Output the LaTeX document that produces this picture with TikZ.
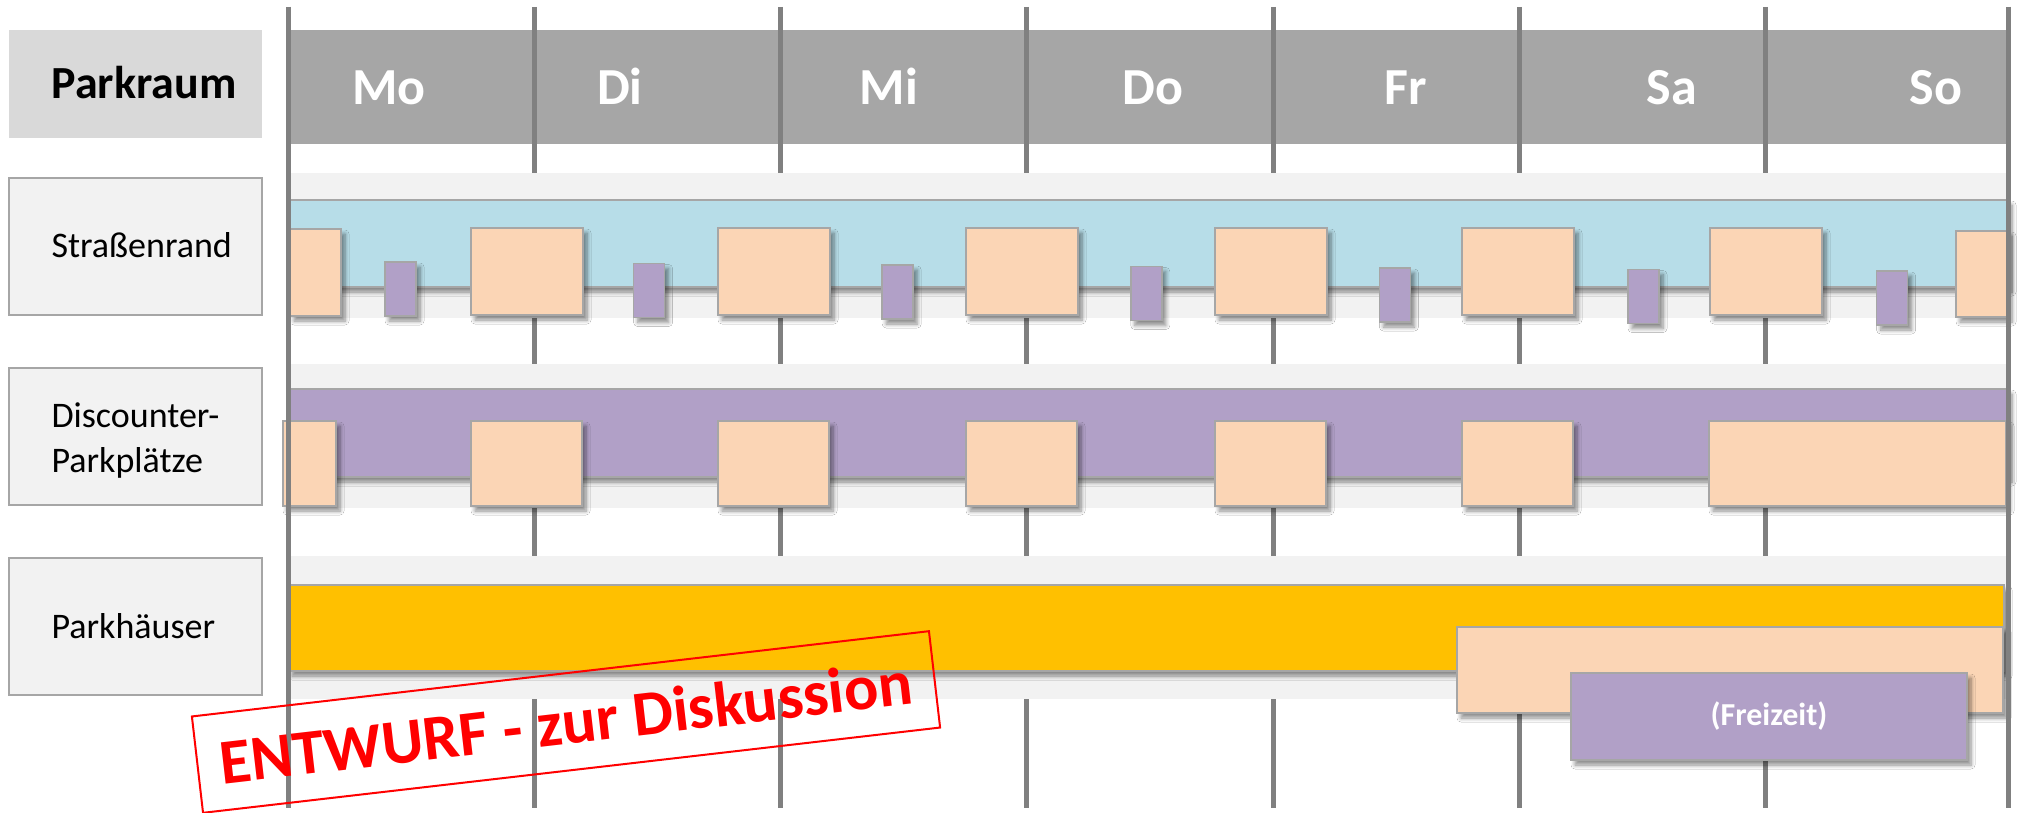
\documentclass[tikz,border=0pt]{standalone}
\usepackage{fontspec}
\setmainfont{Carlito}
\usetikzlibrary{shadows,shadows.blur}
\definecolor{hdrgray}{HTML}{A6A6A6}
\definecolor{titlegray}{HTML}{D9D9D9}
\definecolor{bandgray}{HTML}{F2F2F2}
\definecolor{edgegray}{HTML}{A6A6A6}
\definecolor{linegray}{HTML}{808080}
\definecolor{skyblue}{HTML}{B7DDE8}
\definecolor{lilac}{HTML}{B1A0C7}
\definecolor{peach}{HTML}{FBD5B5}
\definecolor{amber}{HTML}{FFC000}
\definecolor{stampred}{HTML}{FF0000}
\begin{document}
\begin{tikzpicture}[x=1pt,y=-1pt,
  gridline/.style={draw=linegray,line width=5pt},
  band/.style={fill=bandgray},
  labelbox/.style={fill=bandgray,draw=edgegray,line width=2pt},
  shade/.style={blur shadow={shadow xshift=4pt,shadow yshift=-5pt,shadow blur radius=4pt,shadow blur steps=6,shadow opacity=45}},
  bar/.style={draw=edgegray,line width=1.5pt,shade},
  peachbox/.style={fill=peach,draw=edgegray,line width=1.5pt,shade},
  lilacbox/.style={fill=lilac,draw=edgegray,line width=1.5pt,shade},
  daylabel/.style={anchor=base,text=white,font=\fontsize{52}{60}\selectfont\bfseries},
  rowlabel/.style={anchor=base west,text=black,font=\fontsize{36}{43}\selectfont},
]
\useasboundingbox (0,0) rectangle (2024,813);
\fill[white] (0,0) rectangle (2024,813);

% title cell and header
\fill[titlegray] (9,30) rectangle (262,138);
\fill[hdrgray] (290,30) rectangle (2006,144);

% day grid lines
\foreach \i/\x in {0/288,1/534,2/780,3/1026,4/1273,5/1519,6/1765,7/2008}{
  \coordinate (gt\i) at (\x,7);
  \coordinate (gb\i) at (\x,808);
  \draw[gridline] (gt\i) -- (gb\i);
}

% row bands
\fill[band] (288,173) rectangle (2008,318);
\fill[band] (288,364) rectangle (2008,508);
\fill[band] (288,556) rectangle (2008,699);

% row label boxes
\draw[labelbox] (9,178) rectangle (262,315);
\draw[labelbox] (9,368) rectangle (262,505);
\draw[labelbox] (9,558) rectangle (262,695);

% bars
\draw[bar,fill=skyblue] (288,200) rectangle (2008,287);
\draw[bar,fill=lilac] (288,389) rectangle (2008,477);
\draw[bar,fill=amber] (288,585) rectangle (2004,671);

% row 1 boxes
\draw[peachbox] (290,229) rectangle (341,316);
\foreach \x in {471,718,966,1215,1462,1710}{
  \draw[peachbox] (\x,228) rectangle +(112,87);
}
\draw[peachbox] (1956,231) rectangle (2008,317);
\foreach \k in {0,...,6}{
  \draw[lilacbox] ({385+248.6*\k},{262+1.5*\k}) rectangle +(31,54);
}

% row 2 boxes
\draw[peachbox] (283,421) rectangle (336,506);
\foreach \x in {471,718,966,1215,1462}{
  \draw[peachbox] (\x,421) rectangle +(111,85);
}
\draw[peachbox] (1709,421) rectangle (2006,506);

% row 3 boxes
\draw[peachbox] (1457,627) rectangle (2003,713);
\draw[lilacbox] (1571,673) rectangle (1967,760);

% outer grid lines on top
\draw[gridline] (gt0) -- (gb0);
\draw[gridline] (gt7) -- (gb7);

% texts
\node[anchor=base west,font=\fontsize{46}{55}\selectfont\bfseries] (title) at (48,99) {Parkraum};
\node[daylabel] (mo) at (389,105) {Mo};
\node[daylabel] (di) at (620,105) {Di};
\node[daylabel] (mi) at (889,105) {Mi};
\node[daylabel] (do) at (1153,105) {Do};
\node[daylabel] (fr) at (1406,105) {Fr};
\node[daylabel] (sa) at (1672,105) {Sa};
\node[daylabel] (so) at (1936,105) {So};
\node[rowlabel] (strasse) at (48,258) {Straßenrand};
\node[rowlabel] (disc1) at (48,427) {Discounter-};
\node[rowlabel] (disc2) at (48,472) {Parkplätze};
\node[rowlabel] (haus) at (48,638) {Parkhäuser};
\node[text=white,font=\fontsize{32}{38}\selectfont\bfseries] (frei) at (1769,716) {(Freizeit)};

% draft stamp
\node[draw=stampred,line width=2pt,rotate=6.6,minimum width=742pt,minimum height=97pt,
      text=stampred,font=\fontsize{64}{76}\selectfont\bfseries] (stamp) at (566,722)
      {ENTWURF - zur Diskussion};
\end{tikzpicture}
\end{document}
